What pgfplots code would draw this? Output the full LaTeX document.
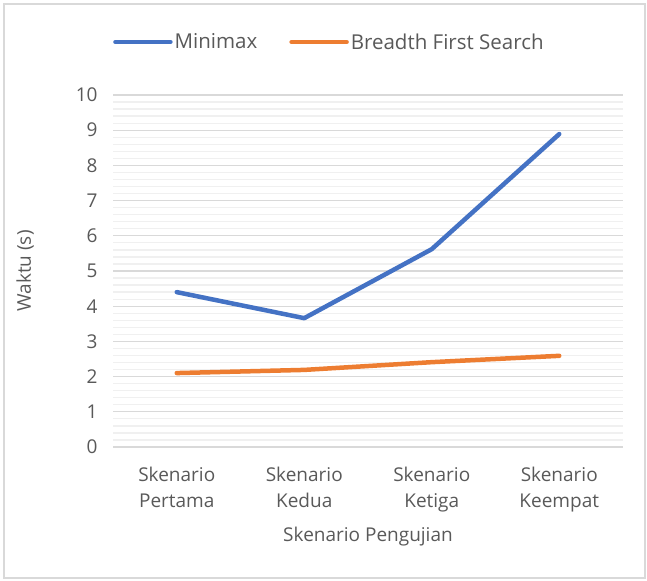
\documentclass[border=0pt]{standalone}
\usepackage{fontspec}
\setmainfont{Open Sans}
\usepackage{pgfplots}
\pgfplotsset{compat=1.18}
\definecolor{mmblue}{HTML}{4472C4}
\definecolor{bfsorange}{HTML}{ED7D31}
\definecolor{txt}{HTML}{595959}
\definecolor{majgrid}{HTML}{D9D9D9}
\definecolor{mingrid}{HTML}{F0F0F0}
\begin{document}
\begin{tikzpicture}
\useasboundingbox (0,0) rectangle (647bp,581bp);
\draw[majgrid, line width=1.2bp] (4bp,3bp) rectangle (645bp,577bp);
\begin{axis}[
  at={(113bp,134bp)}, anchor=south west,
  scale only axis, width=510bp, height=352bp,
  xmin=-0.5, xmax=3.5, ymin=0, ymax=10,
  xtick={0,1,2,3},
  xticklabels={{Skenario\\Pertama},{Skenario\\Kedua},{Skenario\\Ketiga},{Skenario\\Keempat}},
  ytick={0,1,...,10},
  minor y tick num=4,
  ymajorgrids, yminorgrids,
  major grid style={majgrid, line width=1.3bp},
  minor grid style={mingrid, line width=1.3bp},
  axis line style={draw=none},
  major tick length=0pt, minor tick length=0pt,
  tick style={draw=none},
  /pgf/number format/assume math mode=true,
  tick label style={font=\fontsize{19bp}{26bp}\selectfont, text=txt},
  xticklabel style={align=center, yshift=-17bp},
  yticklabel style={xshift=-12bp},
  ylabel={Waktu (s)},
  xlabel={Skenario Pengujian},
  label style={font=\fontsize{19bp}{23bp}\selectfont, text=txt},
  ylabel style={at={(axis description cs:-0.172,0.5)}, anchor=center},
  xlabel style={at={(axis description cs:0.5,-0.2555)}, anchor=center},
  legend columns=-1,
  legend style={draw=none, fill=none, at={(axis description cs:0.0,1.1506)}, anchor=west,
    font=\fontsize{20.5bp}{24bp}\selectfont, text=txt, inner sep=0pt,
    /tikz/every even column/.append style={column sep=30bp}},
  legend image code/.code={\draw[#1, line width=4.5bp, line cap=round] (0bp,0bp) -- (55bp,0bp);},
  legend cell align=left,
]
\addplot[mmblue, line width=4.5bp, line cap=round, line join=round] coordinates {(0,4.40) (1,3.66) (2,5.62) (3,8.89)};
\addlegendentry{Minimax}
\addplot[bfsorange, line width=4.5bp, line cap=round, line join=round] coordinates {(0,2.10) (1,2.19) (2,2.41) (3,2.59)};
\addlegendentry{Breadth First Search}
\end{axis}
\end{tikzpicture}
\end{document}
